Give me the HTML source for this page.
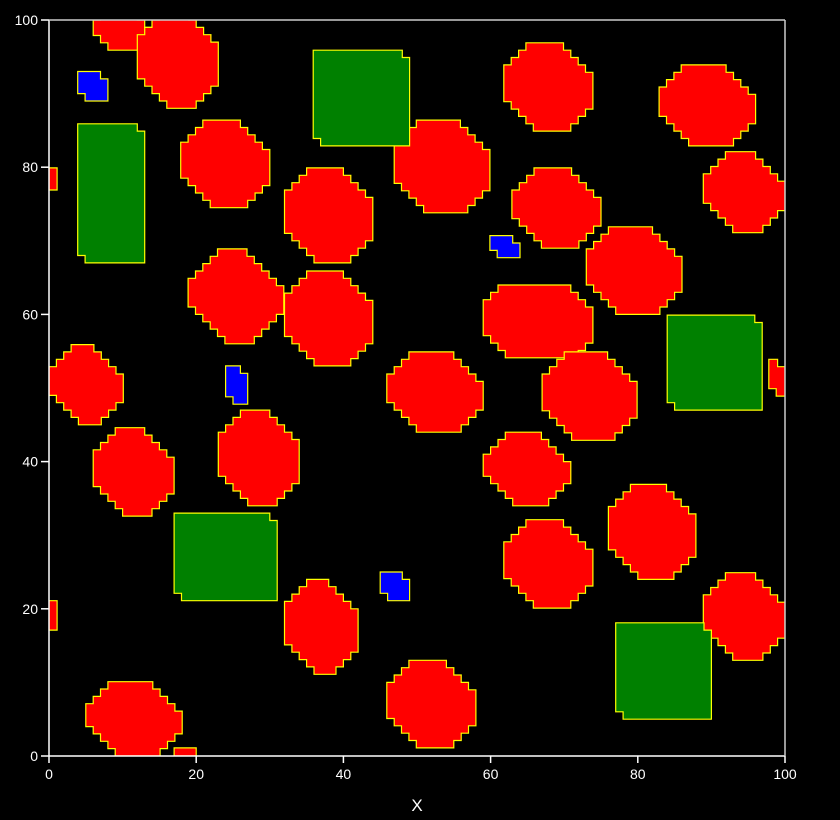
<!DOCTYPE html>
<html><head><meta charset="utf-8"><style>
html,body{margin:0;padding:0;background:#000;}
svg{display:block;}
text{font-family:"Liberation Sans",sans-serif;fill:#fff;}
</style></head><body>
<svg id="chart" width="840" height="820" viewBox="0 0 840 820" xmlns="http://www.w3.org/2000/svg">
<rect width="840" height="820" fill="#000"/>
<defs><clipPath id="plotclip"><rect x="49" y="20" width="736" height="736"/></clipPath></defs>
<g id="blobs" clip-path="url(#plotclip)"></g>
<g id="axes"></g>
</svg>
<script>
const blobX0 = [6,12,61.8,82.9,17.9,46.9,32,62.9,88.9,0,18.9,32,59,73,0,45.9,67,97.8,23,6,59,76,61.8,32,88.9,0,45.9,5,17, 35.9,3.9,84,17,77, 3.9,24,59.9,45];
const blobX1 = [14,23,73.9,96,30,59.9,44,75,100,1.1,31.9,44,73.9,86,10.1,59,79.9,100,34,17,70.9,87.9,73.9,42,100,1.1,58,18.1,20, 49,13,96.9,31,90, 8,27,64,49];
const blobY0 = [95.9,88,84.9,82.9,74.5,73.8,67,69,71.1,76.9,56,53,54.1,60,45,44,42.9,48.9,34,32.6,34,24,20.1,11.1,13,17.1,1.1,0,0, 82.9,67,47,21.1,5, 89,47.8,67.7,21.1];
const blobY1 = [101,101,96.9,93.9,86.4,86.4,79.9,79.9,82.1,79.9,68.9,65.9,64,71.9,55.9,54.9,54.9,53.9,47,44.6,44,36.9,32.1,24,24.9,21.1,13,10.1,1.1, 95.9,85.9,59.9,33,18.1, 93,53,70.7,25];
const blobKind = ["r","r","r","r","r","r","r","r","r","r","r","r","r","r","r","r","r","r","r","r","r","r","r","r","r","r","r","r","r","g","g","g","g","g","b","b","b","b"];
const xTicks = [0,20,40,60,80,100];
const yTicks = [0,20,40,60,80,100];

const L=49,R=785,T=20,B=756;
const sx = v => L + (v/100)*(R-L);
const sy = v => B - (v/100)*(B-T);
const NS="http://www.w3.org/2000/svg";
const fills={r:"#ff0000",g:"#008000",b:"#0000ff"};
const chamf={r:0.35,g:0.1,b:0.2};

function stairPoly(x0,x1,y0,y1,c){
  let k=Math.max(0,Math.round(Math.min(x1-x0,y1-y0)*c));
  const pts=[];
  pts.push([x0,y0+k]);pts.push([x0,y1-k]);
  for(let i=0;i<k;i++){pts.push([x0+i,y1-k+i+1]);pts.push([x0+i+1,y1-k+i+1]);}
  pts.push([x1-k,y1]);
  for(let i=0;i<k;i++){pts.push([x1-k+i,y1-i-1]);pts.push([x1-k+i+1,y1-i-1]);}
  pts.push([x1,y0+k]);
  for(let i=0;i<k;i++){pts.push([x1-i,y0+k-i-1]);pts.push([x1-i-1,y0+k-i-1]);}
  pts.push([x0+k,y0]);
  for(let i=0;i<k;i++){pts.push([x0+k-i,y0+i+1]);pts.push([x0+k-i-1,y0+i+1]);}
  return pts.map(p=>sx(p[0]).toFixed(1)+","+sy(p[1]).toFixed(1)).join(" ");
}
const gB=document.getElementById("blobs");
for(let i=0;i<blobX0.length;i++){
  const p=document.createElementNS(NS,"polygon");
  p.setAttribute("points",stairPoly(blobX0[i],blobX1[i],blobY0[i],blobY1[i],chamf[blobKind[i]]));
  p.setAttribute("fill",fills[blobKind[i]]);
  p.setAttribute("stroke","#ffff00");
  p.setAttribute("stroke-width","1.2");
  
  
  gB.appendChild(p);
}
const gA=document.getElementById("axes");
function line(x1,y1,x2,y2,name,col){
  const l=document.createElementNS(NS,"line");
  l.setAttribute("x1",x1);l.setAttribute("y1",y1);l.setAttribute("x2",x2);l.setAttribute("y2",y2);
  l.setAttribute("stroke",col||"#fff");l.setAttribute("stroke-width","1.5");
  
  
  gA.appendChild(l);
}
line(L,T,L,B,"y-axis");line(L,B,R,B,"x-axis");
line(L,T,R,T,"top-frame","#ccc");line(R,T,R,B,"right-frame","#ccc");
function txt(x,y,s,anchor,name,size){
  const t=document.createElementNS(NS,"text");
  t.setAttribute("x",x);t.setAttribute("y",y);t.setAttribute("text-anchor",anchor);
  t.setAttribute("font-size",size||14);t.textContent=s;
  
  
  gA.appendChild(t);
}
xTicks.forEach(v=>{line(sx(v),B,sx(v),B+7,"x-tick");txt(sx(v),B+23,String(v),"middle","x-tick-label");});
yTicks.forEach(v=>{line(L-8,sy(v),L,sy(v),"y-tick");txt(L-11,sy(v)+5,String(v),"end","y-tick-label");});
txt(417,811,"X","middle","x-axis-title",17);
</script>
</body></html>
